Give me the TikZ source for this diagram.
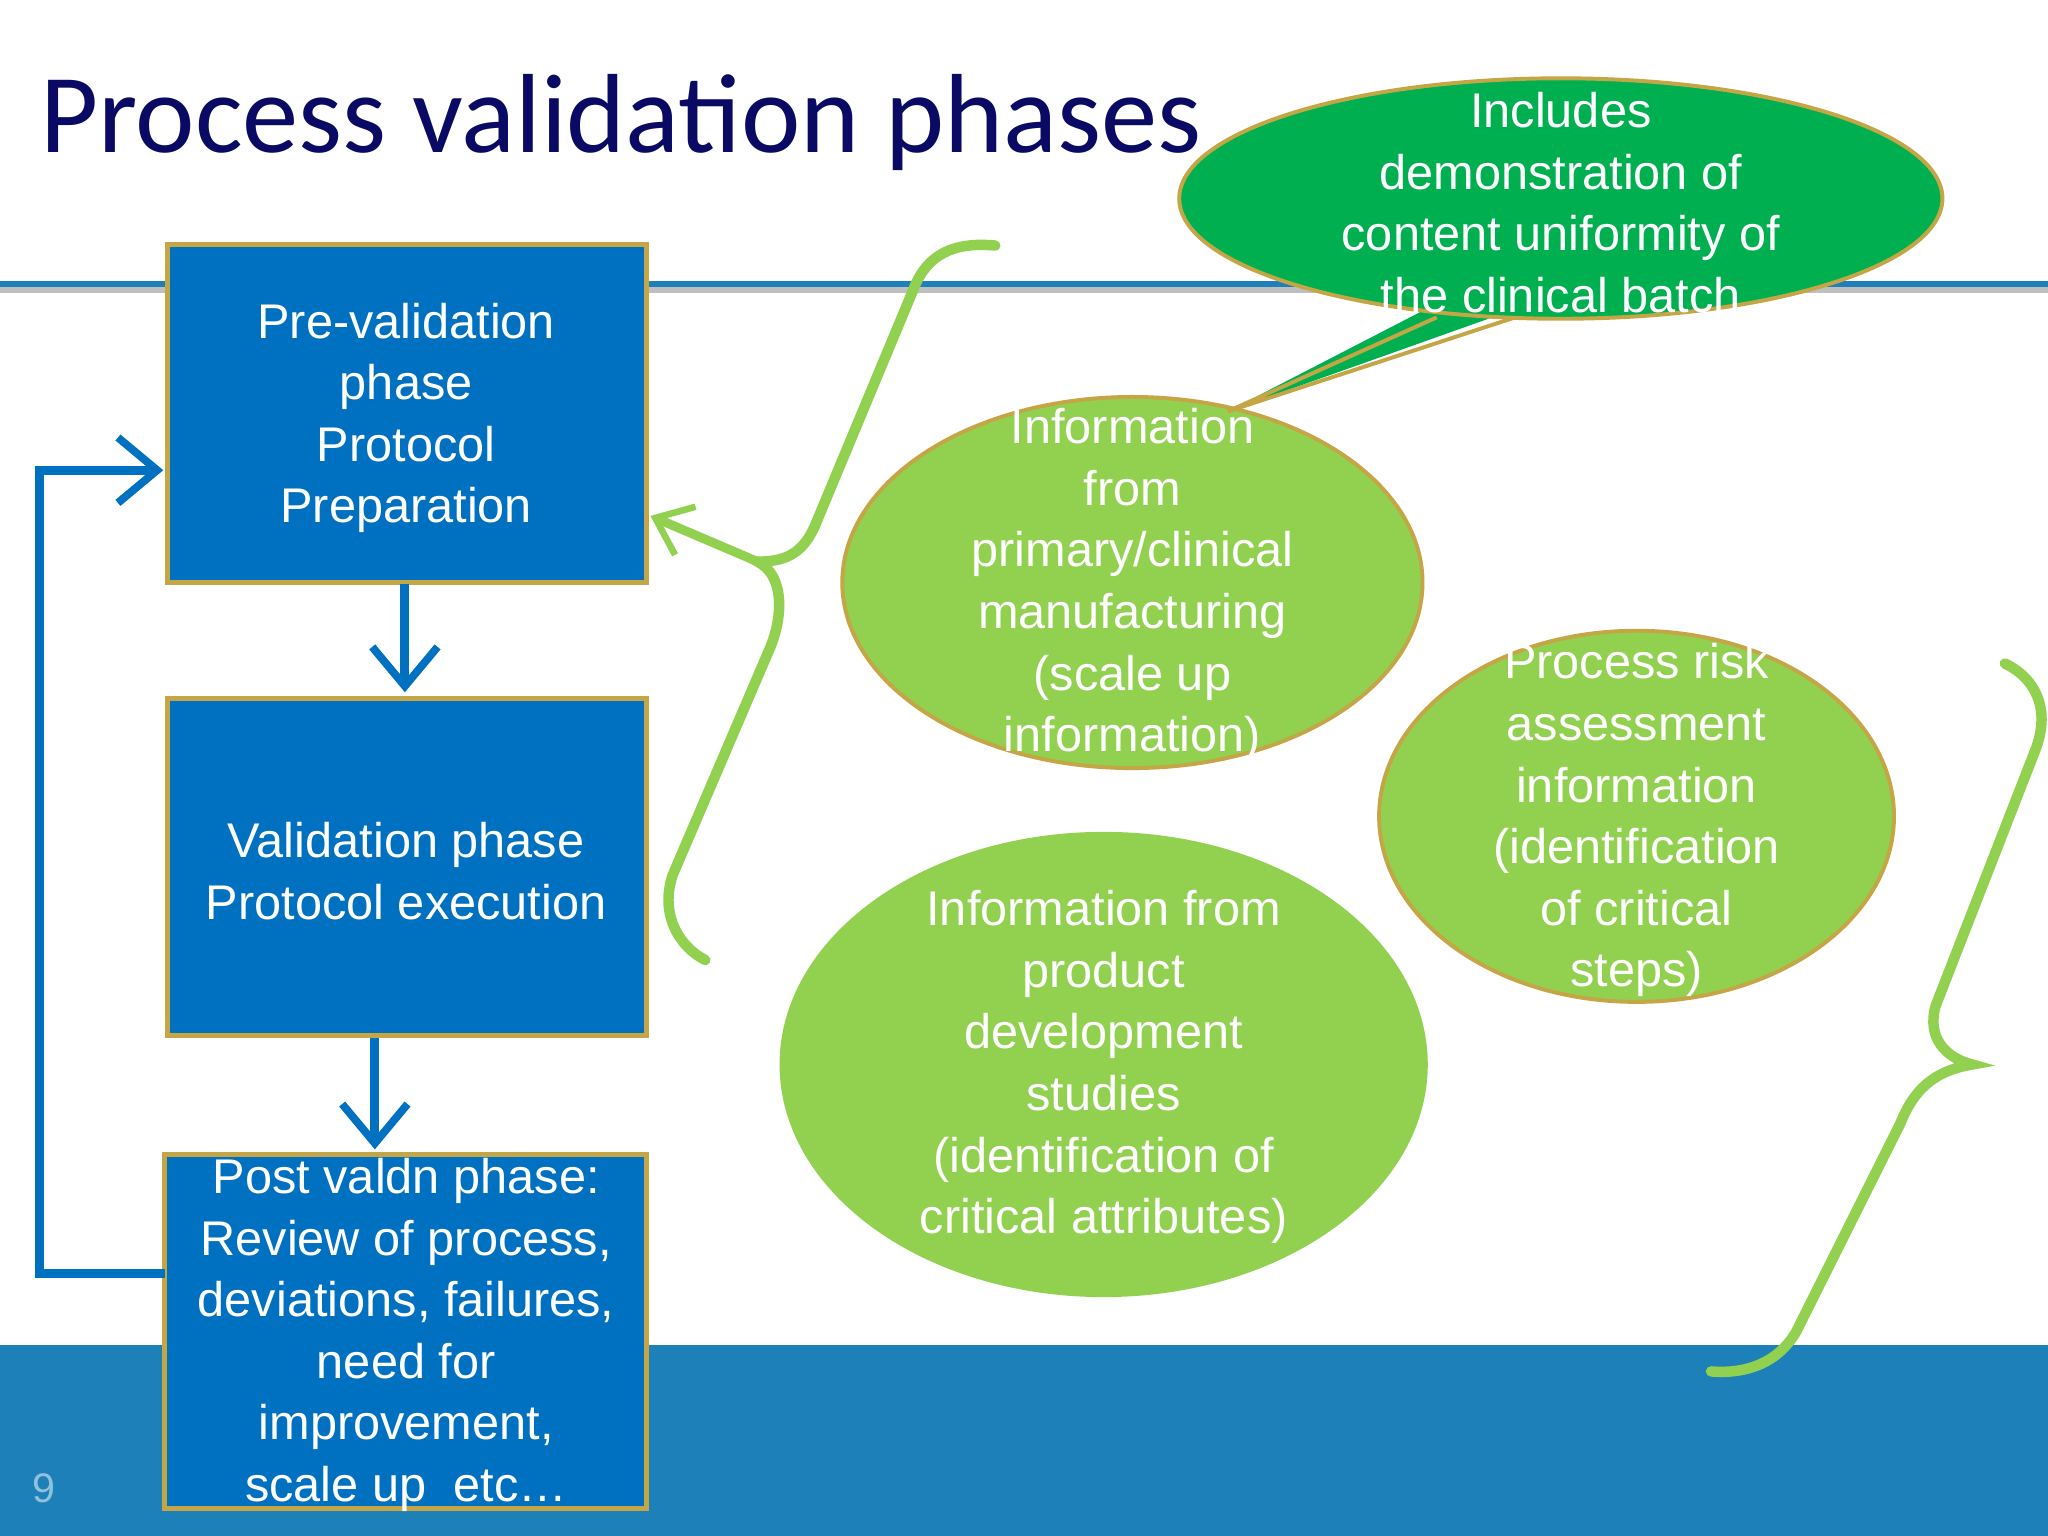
\documentclass[tikz,border=0pt]{standalone}
\usepackage{fontspec}
\usetikzlibrary{shapes.geometric,arrows.meta}
\setmainfont{Liberation Sans}
\newfontfamily\titlefont{Carlito}
\definecolor{boxblue}{RGB}{0,112,192}
\definecolor{gold}{RGB}{196,166,70}
\definecolor{lgreen}{RGB}{146,208,80}
\definecolor{dgreen}{RGB}{0,176,80}
\definecolor{band}{RGB}{30,128,185}
\definecolor{navy}{RGB}{10,10,100}
\definecolor{arrblue}{RGB}{0,112,192}
\tikzset{
  phase/.style={draw=gold,line width=0.04cm,fill=boxblue},
  txt/.style={text=white,align=center,font=\fontsize{10.6}{13.4}\selectfont,inner sep=0pt},
  blob/.style={ellipse,fill=lgreen,inner sep=0pt},
  flow/.style={arrblue,line width=0.07cm,-{Straight Barb[length=0.3cm,width=0.5cm,line width=0.06cm]}},
  bracel/.style={lgreen,line width=0.08cm,line cap=round}
}
\begin{document}
\begin{tikzpicture}[x=0.01cm,y=-0.01cm]
\useasboundingbox (0,0) rectangle (1568,1176);
\fill[white] (0,0) rectangle (1568,1176);
\fill[band] (0,1030) rectangle (1568,1176);
\fill[gray!50] (0,220) rectangle (1568,224);
\fill[band] (0,215) rectangle (1568,220);
\node[anchor=base west,text=navy,font=\titlefont\fontsize{24.5}{28}\selectfont,inner sep=0pt] (title) at (30,117) {Process validation phases};
\node[anchor=base west,text=band!50!white,font=\fontsize{9}{10}\selectfont,inner sep=0pt] (num) at (24,1150) {9};
% boxes
\path[phase] (128,187) rectangle (495,446);
\node[txt] (t1) at (311,320) {Pre-validation\\phase\\Protocol\\Preparation};
\path[phase] (128,535) rectangle (495,793);
\node[txt] (t2) at (311,667) {Validation phase\\Protocol execution};
\path[phase] (126,884) rectangle (495,1155);
\node[txt] (t3) at (311,1022) {Post valdn phase:\\Review of process,\\deviations, failures,\\need for\\improvement,\\scale up\ \ etc\dots};
\coordinate (a1s) at (310,447); \coordinate (a1e) at (310,530);
\coordinate (a2s) at (287,795); \coordinate (a2e) at (287,880);
\draw[flow] (a1s) -- (a1e);
\draw[flow] (a2s) -- (a2e);
\coordinate (fb1) at (126,975); \coordinate (fb2) at (125,360);
\draw[flow] (fb1) -- (30,975) -- (30,360) -- (fb2);
% brace 1
\draw[bracel] (762,188) .. controls (730,185) and (710,195) .. (700,220) -- (625,400) .. controls (615,425) and (600,430) .. (580,430)
  .. controls (600,440) and (600,470) .. (590,495) -- (515,670) .. controls (505,700) and (520,725) .. (540,735);
\coordinate (bp) at (580,430); \coordinate (bt) at (498,395);
\draw[lgreen,line width=0.07cm,-{Straight Barb[length=0.25cm,width=0.4cm,line width=0.05cm]}] (bp) -- (bt);
% brace 2
\draw[bracel] (1535,508) .. controls (1560,520) and (1570,545) .. (1558,575) -- (1482,770) .. controls (1475,795) and (1490,810) .. (1510,815)
  .. controls (1480,820) and (1465,835) .. (1455,860) -- (1375,1020) .. controls (1360,1045) and (1335,1052) .. (1310,1050);
% ellipses
\node[blob,minimum width=4.96cm,minimum height=3.56cm] (e2) at (845,815) {};
\node[blob,draw=gold,line width=0.03cm,minimum width=3.94cm,minimum height=2.84cm] (e3) at (1253,625) {};
\node[blob,draw=gold,line width=0.03cm,minimum width=4.44cm,minimum height=2.84cm] (e1) at (867,446) {};
\node[txt] (t4) at (867,448) {Information\\from\\primary/clinical\\manufacturing\\(scale up\\information)};
\node[txt] (t5) at (845,817) {Information from\\product\\development\\studies\\(identification of\\critical attributes)};
\node[txt] (t6) at (1253,628) {Process risk\\assessment\\information\\(identification\\of critical\\steps)};
% callout
\fill[dgreen] (1165,235) -- (940,315) -- (1095,235) -- cycle;
\draw[gold,line width=0.03cm] (1160,243) -- (940,315) -- (1100,243);
\node[ellipse,fill=dgreen,draw=gold,line width=0.03cm,minimum width=5.84cm,minimum height=1.84cm] (co) at (1195,152) {};
\node[txt] (t7) at (1195,155) {Includes\\demonstration of\\content uniformity of\\the clinical batch};
\end{tikzpicture}
\end{document}
